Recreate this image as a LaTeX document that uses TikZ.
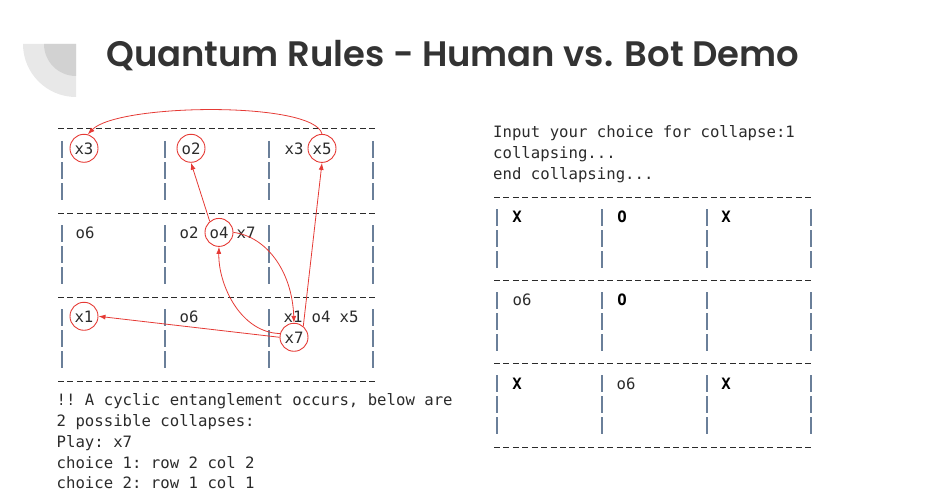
\documentclass[tikz,border=0pt]{standalone}
\usepackage{fontspec}
\setmonofont{DejaVu Sans Mono}
\newfontfamily\titlefont{Poppins}[BoldFont={Poppins SemiBold}]
\usetikzlibrary{arrows.meta}
\definecolor{txt}{HTML}{2B2B2B}
\definecolor{barc}{HTML}{6A7F99}
\definecolor{arr}{HTML}{E53A35}
\definecolor{decoA}{HTML}{E8E8E8}
\definecolor{decoB}{HTML}{D2D2D2}
\definecolor{ttl}{HTML}{333333}
\tikzset{
  mono/.style={font=\ttfamily\fontsize{15.66}{19}\selectfont, text=txt, inner sep=0pt},
  monob/.style={font=\ttfamily\bfseries\fontsize{15.66}{19}\selectfont, text=black, inner sep=0pt, anchor=base},
  tok/.style={mono, anchor=base},
  tline/.style={mono, anchor=base west},
  circ/.style={tok, circle, draw=arr, line width=0.9pt, minimum size=28pt},
  conn/.style={draw=arr, line width=0.8pt, -{Latex[length=7pt,width=5pt]}},
  dashline/.style={draw=txt, line width=1.0pt, dash pattern=on 6pt off 3.43pt},
  vbar/.style={draw=barc, line width=1.3pt}
}
\begin{document}
\begin{tikzpicture}[x=1pt,y=-1pt]
\useasboundingbox (0,0) rectangle (926,500);
% decoration
\fill[decoA] (76,44) -- (23,44) arc[start angle=180, end angle=90, radius=53] -- cycle;
\fill[decoB] (76,44) -- (44,44) arc[start angle=180, end angle=90, radius=32] -- cycle;
% title
\node[anchor=base west, inner sep=0pt, text=ttl, font=\titlefont\bfseries\fontsize{35.4}{39}\selectfont] (title) at (106,67) {Quantum Rules - Human vs. Bot Demo};

% left grid
\foreach \y in {129,213,297,381} \draw[dashline] (58,\y) -- (377,\y);
\foreach \y in {129,213,297} \foreach \x in {62,165,269,373} \foreach \d in {12,33,54} \draw[vbar] (\x,\y+\d) -- ++(0,17);

\node[circ] (x3c) at (84,154) {x3};
\node[circ] (o2c) at (191,154) {o2};
\node[tok] (r1x3) at (294,154) {x3};
\node[circ] (x5c) at (322,154) {x5};

\node[tok] (r2o6) at (85,238) {o6};
\node[tok] (r2o2) at (189,238) {o2};
\node[circ] (o4c) at (219,238) {o4};
\node[tok] (r2x7) at (246,238) {x7};

\node[circ] (x1c) at (84,322) {x1};
\node[tok] (r3o6) at (189,322) {o6};
\node[tok] (r3x1) at (293,322) {x1};
\node[tok] (r3o4) at (321,322) {o4};
\node[tok] (r3x5) at (349,322) {x5};
\node[circ] (x7c) at (294,343) {x7};

% text below
\node[tline] (l1) at (56.5,405) {!! A cyclic entanglement occurs, below are};
\node[tline] (l2) at (56.5,426) {2 possible collapses:};
\node[tline] (l3) at (56.5,447) {Play: x7};
\node[tline] (l4) at (56.5,468) {choice 1: row 2 col 2};
\node[tline] (l5) at (56.5,488) {choice 2: row 1 col 1};

% connectors
\draw[conn] (x5c.north) .. controls +(-8,-33) and +(30,-31) .. (x3c.75);
\draw[conn] (o4c.130) -- (o2c.south);
\draw[conn] (x7c.165) .. controls +(-40,-1) and +(-1,37) .. (o4c.south);
\draw[conn] (o4c.east) .. controls +(32,4) and +(-2,-53) .. (x7c.north);
\draw[conn] (x7c.50) -- (x5c.south);
\draw[conn] (x7c.180) -- (x1c.east);

% right panel
\node[tline] (h1) at (493,138) {Input your choice for collapse:1};
\node[tline] (h2) at (493,158) {collapsing...};
\node[tline] (h3) at (493,179) {end collapsing...};
\foreach \y in {197,280,363,447} \draw[dashline] (494,\y) -- (813,\y);
\foreach \y in {197,280,363} \foreach \x in {497,602,707,811} \foreach \d in {12,33,54} \draw[vbar] (\x,\y+\d) -- ++(0,17);

\node[monob] (a1) at (517,222) {X};
\node[monob] (a2) at (622,222) {O};
\node[monob] (a3) at (726,222) {X};
\node[tok] (b1) at (522,305) {o6};
\node[monob] (b2) at (622,305) {O};
\node[monob] (c1) at (517,389) {X};
\node[tok] (c2) at (626,389) {o6};
\node[monob] (c3) at (726,389) {X};
\end{tikzpicture}
\end{document}
